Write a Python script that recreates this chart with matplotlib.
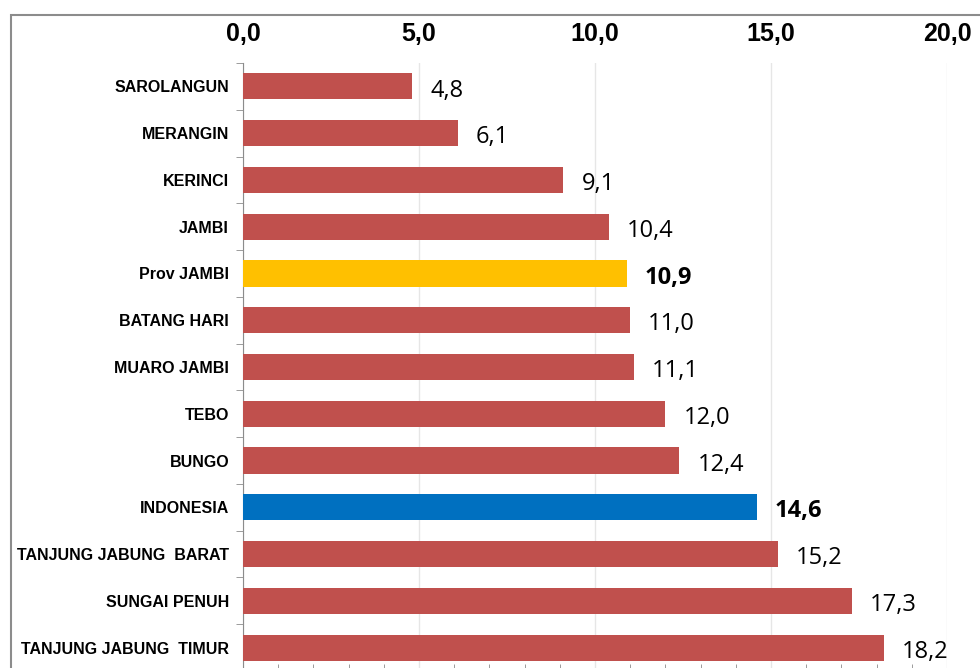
import matplotlib.pyplot as plt
from matplotlib.patches import Rectangle

regions = ['SAROLANGUN', 'MERANGIN', 'KERINCI', 'JAMBI', 'Prov JAMBI',
           'BATANG HARI', 'MUARO JAMBI', 'TEBO', 'BUNGO', 'INDONESIA',
           'TANJUNG JABUNG  BARAT', 'SUNGAI PENUH', 'TANJUNG JABUNG  TIMUR']
values = [4.8, 6.1, 9.1, 10.4, 10.9, 11.0, 11.1, 12.0, 12.4, 14.6, 15.2, 17.3, 18.2]
x_ticks = [0, 5, 10, 15, 20]

RED = '#C0504D'
colors = []
for r in regions:
    if r == 'Prov JAMBI':
        colors.append('#FFC000')
    elif r == 'INDONESIA':
        colors.append('#0070C0')
    else:
        colors.append(RED)

plt.rcParams['font.family'] = ['Liberation Sans', 'DejaVu Sans']

fig = plt.figure(figsize=(9.8, 6.68), dpi=100)
# outer chart frame, cut off at right and bottom like the reference
fig.patches.append(Rectangle((11 / 980, -0.1), 1.2, 1.1 - 15 / 668,
                             transform=fig.transFigure, fill=False,
                             edgecolor='#8C8C8C', linewidth=1.5))

ax = fig.add_axes([243 / 980, 1 - 671 / 668, 704 / 980, 608 / 668])
y = list(range(len(regions)))
ax.barh(y, values, height=0.56, color=colors, zorder=3)

for yi, v, r in zip(y, values, regions):
    bold = r in ('Prov JAMBI', 'INDONESIA')
    ax.annotate(f'{v:.1f}'.replace('.', ','), (v, yi), xytext=(13, -3),
                textcoords='offset points', va='center', ha='left',
                fontsize=17, fontweight='bold' if bold else 'normal',
                family=['Open Sans', 'DejaVu Sans'])

ax.set_xlim(0, 20)
ax.set_ylim(len(regions) - 0.5, -0.5)

ax.xaxis.tick_top()
ax.set_xticks(x_ticks)
ax.set_xticklabels([f'{t:.1f}'.replace('.', ',') for t in x_ticks],
                   fontsize=18, fontweight='bold')
ax.tick_params(axis='x', which='major', length=0, pad=12)
ax.set_xticks(range(0, 21), minor=True)
ax.tick_params(axis='x', which='minor', bottom=True, top=False,
               direction='in', length=5, color='#8C8C8C')
ax.grid(axis='x', which='major', color='#E6E6E6', linewidth=1, zorder=0)

ax.set_yticks(y)
ax.set_yticklabels(regions, fontsize=11.5, fontweight='bold')
ax.tick_params(axis='y', which='major', length=0, pad=10)
ax.set_yticks([i - 0.5 for i in range(len(regions) + 1)], minor=True)
ax.tick_params(axis='y', which='minor', length=5, color='#8C8C8C')

for s in ['top', 'right']:
    ax.spines[s].set_visible(False)
ax.spines['left'].set_color('#8C8C8C')
ax.spines['bottom'].set_color('#8C8C8C')

fig.savefig('out.png', dpi=100)
